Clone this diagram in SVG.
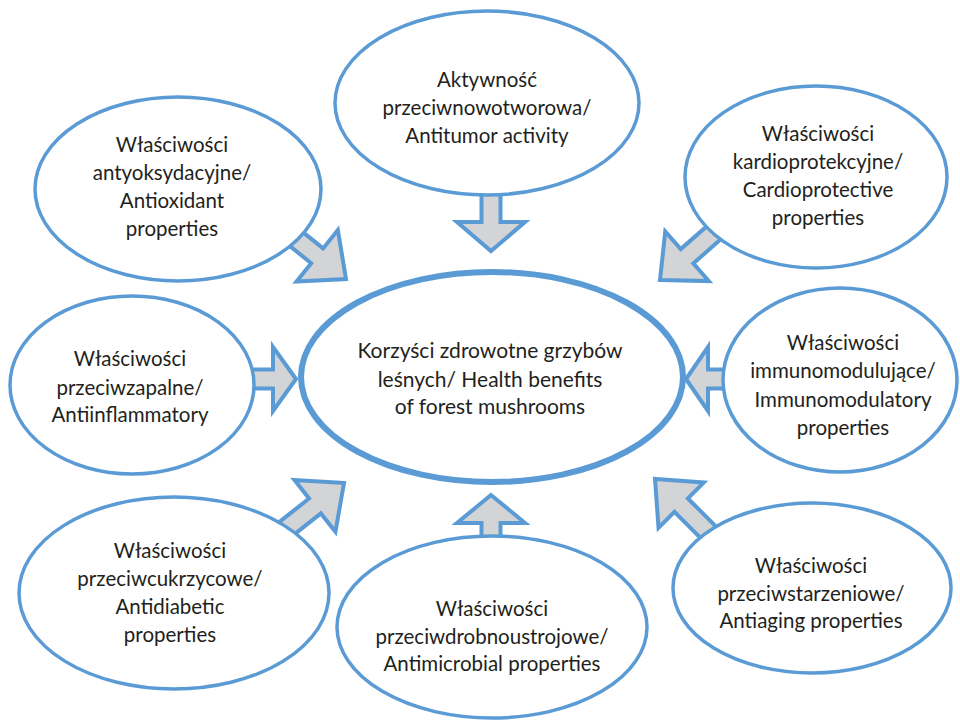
<svg xmlns="http://www.w3.org/2000/svg" width="960" height="728" viewBox="0 0 960 728">
<style>
.bg{fill:#ffffff}
.node{fill:#ffffff;stroke:#5B9BD5;stroke-width:3.5}
.main{fill:#ffffff;stroke:#5B9BD5;stroke-width:6}
.arr{fill:#D3D4D6;stroke:#5B9BD5;stroke-width:4;stroke-linejoin:miter}
text{font-family:Lato,"Open Sans","Liberation Sans",sans-serif;font-size:20.5px;fill:#231F20;text-anchor:middle}
.big{font-size:21px}
</style>
<rect class="bg" x="0" y="0" width="960" height="728"/>
<g id="connectors">
<path class="arr" transform="translate(491,251) rotate(90)" d="M0,0 L-29,-34 L-29,-9.5 L-60,-9.5 L-60,9.5 L-29,9.5 L-29,34 Z"/>
<path class="arr" transform="translate(491,495) rotate(-90)" d="M0,0 L-28,-34 L-28,-9.5 L-55,-9.5 L-55,9.5 L-28,9.5 L-28,34 Z"/>
<path class="arr" transform="translate(296,379)" d="M0,0 L-23,-32 L-23,-9.5 L-50,-9.5 L-50,9.5 L-23,9.5 L-23,32 Z"/>
<path class="arr" transform="translate(686,379) rotate(180)" d="M0,0 L-22,-32 L-22,-9.5 L-45,-9.5 L-45,9.5 L-22,9.5 L-22,32 Z"/>
<path class="arr" transform="translate(346,279) rotate(38.8)" d="M0,0 L-37,-33 L-37,-9.5 L-95,-9.5 L-95,9.5 L-37,9.5 L-37,33 Z"/>
<path class="arr" transform="translate(660,280) rotate(138.7)" d="M0,0 L-36,-33 L-36,-9.5 L-95,-9.5 L-95,9.5 L-36,9.5 L-36,33 Z"/>
<path class="arr" transform="translate(344,483) rotate(-38.3)" d="M0,0 L-37,-33 L-37,-9.5 L-95,-9.5 L-95,9.5 L-37,9.5 L-37,33 Z"/>
<path class="arr" transform="translate(655,479) rotate(-135)" d="M0,0 L-37,-32 L-37,-9.5 L-95,-9.5 L-95,9.5 L-37,9.5 L-37,32 Z"/>
</g>
<g id="n-top">
<ellipse class="node" cx="487" cy="103" rx="152" ry="92"/>
<text x="487" y="87">Aktywność</text>
<text x="487" y="115">przeciwnowotworowa/</text>
<text x="487" y="143">Antitumor activity</text>
</g>
<g id="n-topleft">
<ellipse class="node" cx="178" cy="189" rx="143" ry="92"/>
<text x="172" y="152">Właściwości</text>
<text x="172" y="180">antyoksydacyjne/</text>
<text x="172" y="208">Antioxidant</text>
<text x="172" y="236">properties</text>
</g>
<g id="n-topright">
<ellipse class="node" cx="816" cy="177" rx="131" ry="91"/>
<text x="818" y="141">Właściwości</text>
<text x="818" y="169">kardioprotekcyjne/</text>
<text x="818" y="197">Cardioprotective</text>
<text x="818" y="225">properties</text>
</g>
<g id="n-left">
<ellipse class="node" cx="132" cy="385" rx="122" ry="89"/>
<text x="130" y="366">Właściwości</text>
<text x="130" y="395">przeciwzapalne/</text>
<text x="130" y="422">Antiinflammatory</text>
</g>
<g id="n-right">
<ellipse class="node" cx="840" cy="380" rx="117" ry="92"/>
<text x="843" y="350">Właściwości</text>
<text x="843" y="378">immunomodulujące/</text>
<text x="843" y="407">Immunomodulatory</text>
<text x="843" y="435">properties</text>
</g>
<g id="n-bottomleft">
<ellipse class="node" cx="174" cy="593" rx="155" ry="96"/>
<text x="170" y="558">Właściwości</text>
<text x="170" y="586">przeciwcukrzycowe/</text>
<text x="170" y="614">Antidiabetic</text>
<text x="170" y="642">properties</text>
</g>
<g id="n-bottom">
<ellipse class="node" cx="492" cy="627" rx="155" ry="91"/>
<text x="492" y="616">Właściwości</text>
<text x="492" y="644">przeciwdrobnoustrojowe/</text>
<text x="492" y="671">Antimicrobial properties</text>
</g>
<g id="n-bottomright">
<ellipse class="node" cx="812" cy="588" rx="139" ry="85"/>
<text x="811" y="573">Właściwości</text>
<text x="811" y="601">przeciwstarzeniowe/</text>
<text x="811" y="628">Antiaging properties</text>
</g>
<g id="n-center">
<ellipse class="main" cx="492" cy="377" rx="191" ry="105"/>
<text class="big" x="490" y="358">Korzyści zdrowotne grzybów</text>
<text class="big" x="490" y="387">leśnych/ Health benefits</text>
<text class="big" x="490" y="414">of forest mushrooms</text>
</g>
</svg>
